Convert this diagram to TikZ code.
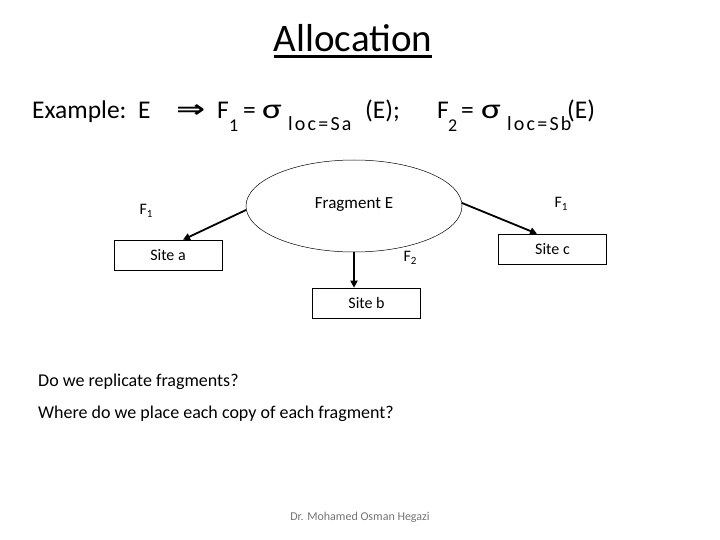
\documentclass[tikz,border=0pt]{standalone}
\usepackage{fontspec}
\setmainfont{Carlito}
\newfontfamily\dejavu{DejaVu Sans}
\usetikzlibrary{arrows.meta,shapes.geometric}
\begin{document}
\begin{tikzpicture}[x=1pt,y=-1pt,
  site/.style={draw,line width=0.6pt,minimum width=108pt,minimum height=30pt,inner sep=0pt,font=\fontsize{16}{18}\selectfont},
  lbl/.style={font=\fontsize{16}{18}\selectfont,inner sep=0pt},
  conn/.style={line width=1.8pt,-{Triangle[length=7pt,width=7pt]}},
  body/.style={font=\fontsize{18}{20}\selectfont,anchor=base west,inner sep=0pt},
  big/.style={font=\fontsize{25.5}{30}\selectfont,anchor=base west,inner sep=0pt},
  sub/.style={font=\fontsize{20}{22}\selectfont\addfontfeature{LetterSpace=11},anchor=base west,inner sep=0pt},
  subn/.style={font=\fontsize{18}{20}\selectfont,anchor=base west,inner sep=0pt}]
\useasboundingbox (0,0) rectangle (720,540);
\node[anchor=base,inner sep=0pt,font=\fontsize{39}{44}\selectfont] (title) at (353,51.5) {Allocation};
\draw[line width=2.6pt] ([yshift=-5pt]title.base west) -- ([yshift=-5pt]title.base east);
% example line
\node[big] (ex1) at (32,118.5) {Example:};
\node[big] (ex2) at (138,118.5) {E};
\node[big,font=\dejavu\bfseries\fontsize{24}{30}\selectfont] (ex3) at (176,118) {\scalebox{1.45}[1]{⇒}};
\node[big] (ex4) at (217,118.5) {F};
\node[subn] (ex5) at (229,132) {1};
\node[big] (ex6) at (243,118.5) {=};
\node[big] (ex7) at (262,119) {\scalebox{1.45}[1.1]{σ}};
\node[sub] (ex8) at (288,130.5) {loc=Sa};
\node[big] (ex9) at (365,118.5) {(E);};
\node[big] (ex10) at (437,118.5) {F};
\node[subn] (ex11) at (448,132) {2};
\node[big] (ex12) at (461,118.5) {=};
\node[big] (ex13) at (481,119) {\scalebox{1.45}[1.1]{σ}};
\node[sub] (ex14) at (507,130.5) {loc=Sb};
\node[big] (ex15) at (567,118.5) {(E)};
% diagram
\node[draw,ellipse,line width=0.5pt,minimum width=216pt,minimum height=92pt,inner sep=0pt] (E) at (354,206) {};
\node[lbl,font=\fontsize{17}{18}\selectfont] (Et) at (354,205) {Fragment E};
\node[site] (sa) at (168,255) {Site a};
\node[site] (sb) at (366.5,303) {Site b};
\node[site] (sc) at (552.5,249) {Site c};
\coordinate (ea) at (246,210);
\coordinate (ec) at (462,203);
\coordinate (ta) at (183,239);
\coordinate (tc) at (537,233);
\draw[conn] (ea) -- (sa.north -| ta);
\draw[conn] (ec) -- (sc.north -| tc);
\draw[conn] (E.south) -- (E.south |- sb.north);
\node[lbl] (f1a) at (146,211) {F\raisebox{-0.4ex}{\fontsize{11}{12}\selectfont 1}};
\node[lbl] (f1c) at (561,204) {F\raisebox{-0.4ex}{\fontsize{11}{12}\selectfont 1}};
\node[lbl] (f2) at (410,258) {F\raisebox{-0.4ex}{\fontsize{11}{12}\selectfont 2}};
\node[body] (q1) at (38,386) {Do we replicate fragments?};
\node[body] (q2) at (38,418) {Where do we place each copy of each fragment?};
\node[anchor=base,inner sep=0pt,text=black!55,font=\fontsize{12}{14}\selectfont] (ft) at (360,520) {Dr. Mohamed Osman Hegazi};
\end{tikzpicture}
\end{document}
